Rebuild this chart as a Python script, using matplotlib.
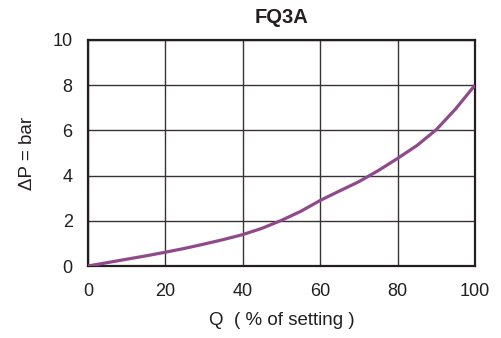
import matplotlib.pyplot as plt

# valores
q = [0, 5, 10, 15, 20, 25, 30, 35, 40, 45, 50, 55, 60, 65, 70, 75, 80, 85, 90, 95, 100]
dp = [0, 0.15, 0.30, 0.45, 0.61, 0.78, 0.97, 1.17, 1.39, 1.67, 2.02, 2.42, 2.90,
      3.32, 3.73, 4.22, 4.76, 5.33, 6.03, 6.95, 8.0]

xticks = [0, 20, 40, 60, 80, 100]
yticks = [0, 2, 4, 6, 8, 10]

plt.rcParams['font.family'] = ['Liberation Sans', 'DejaVu Sans']

fig = plt.figure(figsize=(5.01, 3.38), dpi=100)
ax = fig.add_axes([0.1756, 0.213, 0.7724, 0.6687])

ax.plot(q, dp, color='#8e4a8a', linewidth=2.3, solid_capstyle='butt',
        solid_joinstyle='round', zorder=3)

ax.set_xlim(0, 100)
ax.set_ylim(0, 10)
ax.set_xticks(xticks)
ax.set_yticks(yticks)
ax.grid(True, color='#3a3333', linewidth=1.0)
ax.tick_params(length=0, labelsize=13, colors='#231f20')
ax.tick_params(axis='x', pad=12)
ax.tick_params(axis='y', pad=11)
for s in ax.spines.values():
    s.set_linewidth(1.6)
    s.set_color('#231f20')

ax.set_title('FQ3A', fontsize=14.5, fontweight='bold', color='#231f20', pad=12)
ax.set_xlabel('Q  ( % of setting )', fontsize=13.5, color='#231f20', labelpad=9)
ax.set_ylabel('ΔP = bar', fontsize=13.5, color='#231f20', labelpad=12)

plt.savefig('out.png', dpi=100)
